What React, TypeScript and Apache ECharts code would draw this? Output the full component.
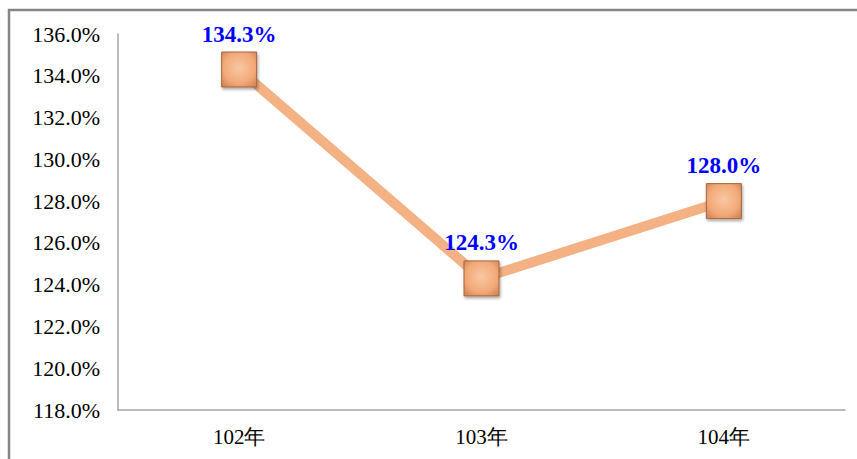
import React, { useEffect, useRef } from "react";
import * as echarts from "echarts";

const categories = ["102年", "103年", "104年"];
const values = [134.3, 124.3, 128.0];
const yMin = 118;
const yMax = 136;
const yInterval = 2;

export default function App() {
  const ref = useRef<HTMLDivElement>(null);
  useEffect(() => {
    if (!ref.current) return;
    const chart = echarts.init(ref.current, null, { renderer: "svg" });
    const serif = "'Liberation Serif', 'Times New Roman', serif";
    chart.setOption({
      animation: false,
      backgroundColor: "#ffffff",
      graphic: [
        {
          type: "rect",
          shape: { x: 9, y: 10, width: 900, height: 500 },
          style: { fill: "none", stroke: "#868686", lineWidth: 2.5 },
          z: 100,
        },
      ],
      grid: { left: 118, right: 12, top: 34, bottom: 49 },
      xAxis: {
        type: "category",
        data: categories,
        axisLine: { lineStyle: { color: "#a6a6a6", width: 1.5 } },
        axisTick: { show: false },
        axisLabel: { color: "#000", fontFamily: serif, fontSize: 21, margin: 16 },
      },
      yAxis: {
        type: "value",
        min: yMin,
        max: yMax,
        interval: yInterval,
        axisLine: { show: true, lineStyle: { color: "#a6a6a6", width: 1.5 } },
        axisTick: { show: false },
        splitLine: { show: false },
        axisLabel: {
          color: "#000",
          fontFamily: serif,
          fontSize: 22,
          margin: 18,
          formatter: (v: number) => v.toFixed(1) + "%",
        },
      },
      series: [
        {
          type: "line",
          data: values,
          symbol: "rect",
          symbolSize: 35,
          lineStyle: { color: "#F4B183", width: 10 },
          itemStyle: {
            color: {
              type: "radial",
              x: 0.5,
              y: 0.45,
              r: 0.75,
              colorStops: [
                { offset: 0, color: "#F9C8A2" },
                { offset: 0.6, color: "#F2A878" },
                { offset: 1, color: "#C97B4D" },
              ],
            },
            borderColor: "#A8643C",
            borderWidth: 1,
            shadowColor: "rgba(0,0,0,0.35)",
            shadowBlur: 3,
            shadowOffsetX: 1,
            shadowOffsetY: 2,
          },
          label: {
            show: true,
            position: "top",
            distance: 6,
            color: "#0000FF",
            fontFamily: serif,
            fontWeight: "bold",
            fontSize: 23,
            formatter: (p: any) => Number(p.value).toFixed(1) + "%",
          },
        },
      ],
    });
    return () => chart.dispose();
  }, []);
  return (
    <div
      ref={ref}
      style={{ position: "fixed", left: 0, top: 0, width: 857, height: 459 }}
    />
  );
}
